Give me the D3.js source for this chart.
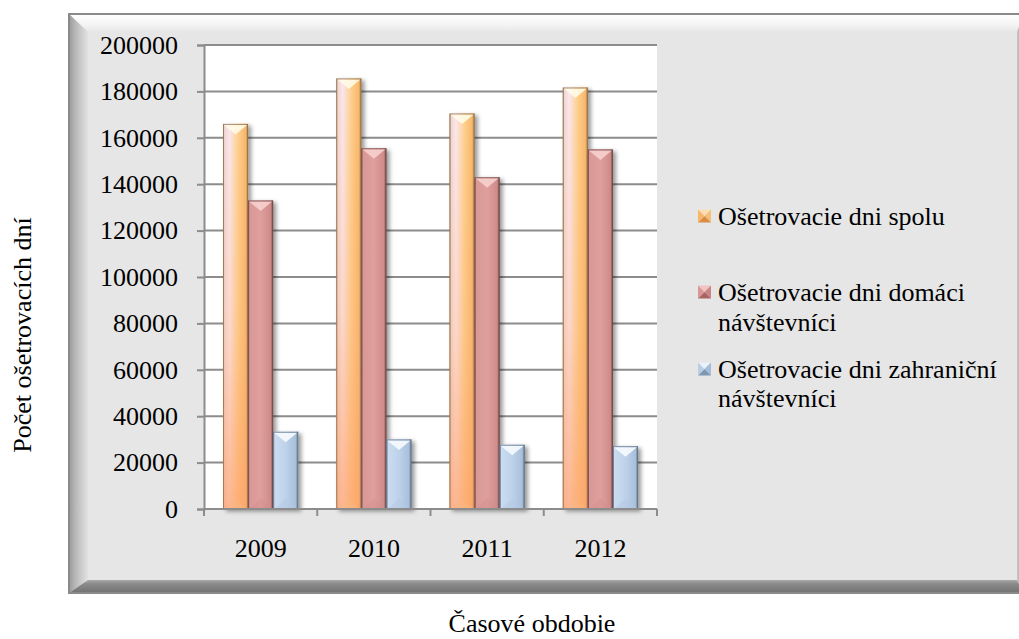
<!DOCTYPE html>
<html>
<head>
<meta charset="utf-8">
<script src="https://cdn.jsdelivr.net/npm/d3@7"></script>
<style>
  html, body { margin: 0; padding: 0; background: #fff; }
  svg { display: block; }
  svg text { font-family: "Liberation Serif", "Times New Roman", serif; }
</style>
</head>
<body>
<svg id="chart" width="1019" height="639"></svg>
<script>
// Počet ošetrovacích dní podľa rokov
const years = ["2009", "2010", "2011", "2012"];
const seriesNames = [
  ["Ošetrovacie dni spolu"],
  ["Ošetrovacie dni domáci", "návštevníci"],
  ["Ošetrovacie dni zahraniční", "návštevníci"]
];
const spolu = [166000, 185600, 170500, 181700];
const domaci = [133000, 155500, 143000, 155000];
const zahranicni = [33300, 30000, 27700, 27100];
const yTicks = [0, 20000, 40000, 60000, 80000, 100000, 120000, 140000, 160000, 180000, 200000];

const FONT = "Liberation Serif";
const svg = d3.select("#chart");
const defs = svg.append("defs");

// ---- outer beveled frame ----
const F = { x0: 69, y0: 14, x1: 1024, y1: 593 };
const bev = { t: 18, l: 19, b: 13, r: 7 };

function lin(id, x1, y1, x2, y2, stops) {
  const g = defs.append("linearGradient").attr("id", id)
    .attr("x1", x1).attr("y1", y1).attr("x2", x2).attr("y2", y2);
  stops.forEach(([o, c, op]) => g.append("stop").attr("offset", o).attr("stop-color", c)
    .attr("stop-opacity", op == null ? 1 : op));
  return `url(#${id})`;
}

const gTop = lin("bevTop", 0, 0, 0, 1, [[0, "#ffffff"], [0.6, "#f4f4f4"], [1, "#e6e6e6"]]);
const gLeft = lin("bevLeft", 0, 0, 1, 0, [[0, "#9a9a9a"], [0.35, "#b9b9b9"], [0.75, "#d2d2d2"], [1, "#e2e2e2"]]);
const gBot = lin("bevBot", 0, 0, 0, 1, [[0, "#a9a9a9"], [0.3, "#8a8a8a"], [1, "#727272"]]);
const gRight = lin("bevRight", 0, 0, 1, 0, [[0, "#c8c8c8"], [1, "#8e8e8e"]]);

const frame = svg.append("g");
frame.append("rect").attr("x", F.x0).attr("y", F.y0)
  .attr("width", F.x1 - F.x0).attr("height", F.y1 - F.y0).attr("fill", "#e6e6e6");
frame.append("polygon").attr("fill", gTop).attr("points", [
  [F.x0, F.y0], [F.x1, F.y0], [F.x1 - bev.r, F.y0 + bev.t], [F.x0 + bev.l, F.y0 + bev.t]].join(" "));
frame.append("polygon").attr("fill", gLeft).attr("points", [
  [F.x0, F.y0], [F.x0 + bev.l, F.y0 + bev.t], [F.x0 + bev.l, F.y1 - bev.b], [F.x0, F.y1]].join(" "));
frame.append("polygon").attr("fill", gBot).attr("points", [
  [F.x0, F.y1], [F.x0 + bev.l, F.y1 - bev.b], [F.x1 - bev.r, F.y1 - bev.b], [F.x1, F.y1]].join(" "));
frame.append("polygon").attr("fill", gRight).attr("points", [
  [F.x1, F.y0], [F.x1 - bev.r, F.y0 + bev.t], [F.x1 - bev.r, F.y1 - bev.b], [F.x1, F.y1]].join(" "));
frame.append("rect").attr("x", F.x0).attr("y", F.y0)
  .attr("width", F.x1 - F.x0).attr("height", F.y1 - F.y0)
  .attr("fill", "none").attr("stroke", "#8a8a8a").attr("stroke-width", 2);

// ---- plot area ----
const P = { left: 204, right: 657, top: 45, bottom: 509 };
const x = d3.scaleBand().domain(years).range([P.left, P.right]).paddingInner(0).paddingOuter(0);
const y = d3.scaleLinear().domain([0, 200000]).range([P.bottom, P.top]);

svg.append("rect").attr("x", P.left).attr("y", P.top)
  .attr("width", P.right - P.left).attr("height", P.bottom - P.top).attr("fill", "#ffffff");

// gridlines
svg.append("g").selectAll("line").data(yTicks.filter(d => d > 0)).join("line")
  .attr("x1", P.left).attr("x2", P.right)
  .attr("y1", d => y(d)).attr("y2", d => y(d))
  .attr("stroke", "#8c8c8c").attr("stroke-width", 2);

// ---- bars ----
const sub = d3.scaleBand().domain([0, 1, 2]).range([0, x.bandwidth()])
  .paddingInner(0).paddingOuter(0.76);

const shadow = defs.append("filter").attr("id", "shadow")
  .attr("x", "-30%").attr("y", "-10%").attr("width", "180%").attr("height", "130%");
shadow.append("feDropShadow").attr("dx", 3).attr("dy", 2).attr("stdDeviation", 2.2)
  .attr("flood-color", "#000").attr("flood-opacity", 0.4);

const styles = [
  {
    fill: lin("fillSpolu", 0, 0, 1, 0, [[0, "#a88358"], [0.05, "#efd6d2"], [0.25, "#fbe7ee"], [0.6, "#fdcf8c"], [0.9, "#f9b86c"], [1, "#a47b4b"]]),
    over: lin("overSpolu", 0, 0, 0, 1, [[0, "#fda86e", 0], [0.55, "#fda86e", 0.25], [1, "#fda06a", 0.7]]),
    cap: "#fffbe8", base: "#f7b886", stroke: "#8a6a45", legend: ["#fce0b4", "#f7b66a", "#d98c42", "#f3c07a"]
  },
  {
    fill: lin("fillDomaci", 0, 0, 1, 0, [[0, "#7e5250"], [0.06, "#d99896"], [0.5, "#df9f9d"], [0.9, "#cf8b89"], [1, "#6e4644"]]),
    over: null,
    cap: "#f6d0ce", base: "#d48e8c", stroke: "#6e4644", legend: ["#f0c4c2", "#d99694", "#a86462", "#c98583"]
  },
  {
    fill: lin("fillZahr", 0, 0, 1, 0, [[0, "#6b7f96"], [0.06, "#cbdcf0"], [0.5, "#bdd2ea"], [0.9, "#a9c0db"], [1, "#5f738a"]]),
    over: null,
    cap: "#f7fbff", base: "#b3c8e2", stroke: "#5f738a", legend: ["#e9f1fb", "#b9cde5", "#7f96b3", "#a6bdd9"]
  }
];

const data = years.map((yr, i) => ({ year: yr, values: [spolu[i], domaci[i], zahranicni[i]] }));

const barG = svg.append("g");
data.forEach(d => {
  d.values.forEach((v, s) => {
    const bx = x(d.year) + sub(s);
    const bw = sub.bandwidth();
    const by = y(v);
    const bh = y(0) - y(v);
    const st = styles[s];
    const g = barG.append("g").attr("filter", "url(#shadow)");
    g.append("rect").attr("x", bx).attr("y", by).attr("width", bw).attr("height", bh)
      .attr("fill", st.fill);
    if (st.over) {
      g.append("rect").attr("x", bx).attr("y", by).attr("width", bw).attr("height", bh)
        .attr("fill", st.over);
    }
    const ch = Math.min(bw * 0.42, bh / 2);
    // top bevel
    g.append("polygon").attr("fill", st.cap).attr("opacity", 0.9)
      .attr("points", [[bx + 1, by + 1], [bx + bw - 1, by + 1], [bx + bw / 2, by + ch]].join(" "));
    // bottom bevel
    g.append("polygon").attr("fill", st.base).attr("opacity", 0.45)
      .attr("points", [[bx + 1, by + bh], [bx + bw - 1, by + bh], [bx + bw / 2, by + bh - ch]].join(" "));
    g.append("rect").attr("x", bx + 0.5).attr("y", by + 0.5).attr("width", bw - 1).attr("height", bh - 0.5)
      .attr("fill", "none").attr("stroke", st.stroke).attr("stroke-width", 1).attr("stroke-opacity", 0.7);
  });
});

// ---- axes ----
const yAxis = d3.axisLeft(y).tickValues(yTicks).tickSize(7).tickPadding(19).tickFormat(d3.format("d"));
const yG = svg.append("g").attr("transform", `translate(${P.left},0)`).call(yAxis)
  .attr("font-family", FONT).attr("font-size", 26);
yG.select(".domain").attr("stroke", "#8c8c8c").attr("stroke-width", 2);
yG.selectAll(".tick line").attr("stroke", "#8c8c8c").attr("stroke-width", 2);
yG.selectAll(".tick text").attr("fill", "#000");

const xAxis = d3.axisBottom(x).tickSize(0).tickPadding(0);
const xG = svg.append("g").attr("transform", `translate(0,${P.bottom})`).call(xAxis)
  .attr("font-family", FONT).attr("font-size", 26);
xG.select(".domain").remove();
xG.selectAll(".tick text").attr("fill", "#000").attr("dy", 0).attr("y", 48);
// category separators below the axis
const sepX = years.map(yr => x(yr)).concat([P.right]);
xG.append("line").attr("x1", P.left).attr("x2", P.right).attr("y1", 0).attr("y2", 0)
  .attr("stroke", "#8c8c8c").attr("stroke-width", 2);
xG.selectAll(".sep").data(sepX).join("line").attr("class", "sep")
  .attr("x1", d => d).attr("x2", d => d).attr("y1", 0).attr("y2", 7)
  .attr("stroke", "#8c8c8c").attr("stroke-width", 2);

// ---- legend ----
const legendRows = [[216], [292, 322], [369, 398]];
const lg = svg.append("g").attr("font-family", FONT).attr("font-size", 26);
seriesNames.forEach((lines, s) => {
  const cy = legendRows[s][0];
  const mx = 698, ms = 13, my = cy - ms / 2;
  const c = styles[s].legend;
  const m = lg.append("g");
  const cx0 = mx + ms / 2, cy0 = my + ms / 2;
  m.append("polygon").attr("fill", c[0]).attr("points", [[mx, my], [mx + ms, my], [cx0, cy0]].join(" "));
  m.append("polygon").attr("fill", c[3]).attr("points", [[mx + ms, my], [mx + ms, my + ms], [cx0, cy0]].join(" "));
  m.append("polygon").attr("fill", c[2]).attr("points", [[mx, my + ms], [mx + ms, my + ms], [cx0, cy0]].join(" "));
  m.append("polygon").attr("fill", c[1]).attr("points", [[mx, my], [mx, my + ms], [cx0, cy0]].join(" "));
  lines.forEach((t, k) => {
    lg.append("text").attr("x", 718).attr("y", legendRows[s][k] + 9)
      .attr("font-family", FONT).attr("fill", "#000").text(t);
  });
});

// ---- axis titles ----
svg.append("text").attr("x", 532).attr("y", 632).attr("text-anchor", "middle")
  .attr("font-family", FONT).attr("font-size", 26).attr("fill", "#000").text("Časové obdobie");
svg.append("text").attr("transform", "translate(31,335) rotate(-90)")
  .attr("text-anchor", "middle").attr("font-family", FONT).attr("font-size", 26).attr("fill", "#000")
  .text("Počet ošetrovacích dní");
</script>
</body>
</html>
